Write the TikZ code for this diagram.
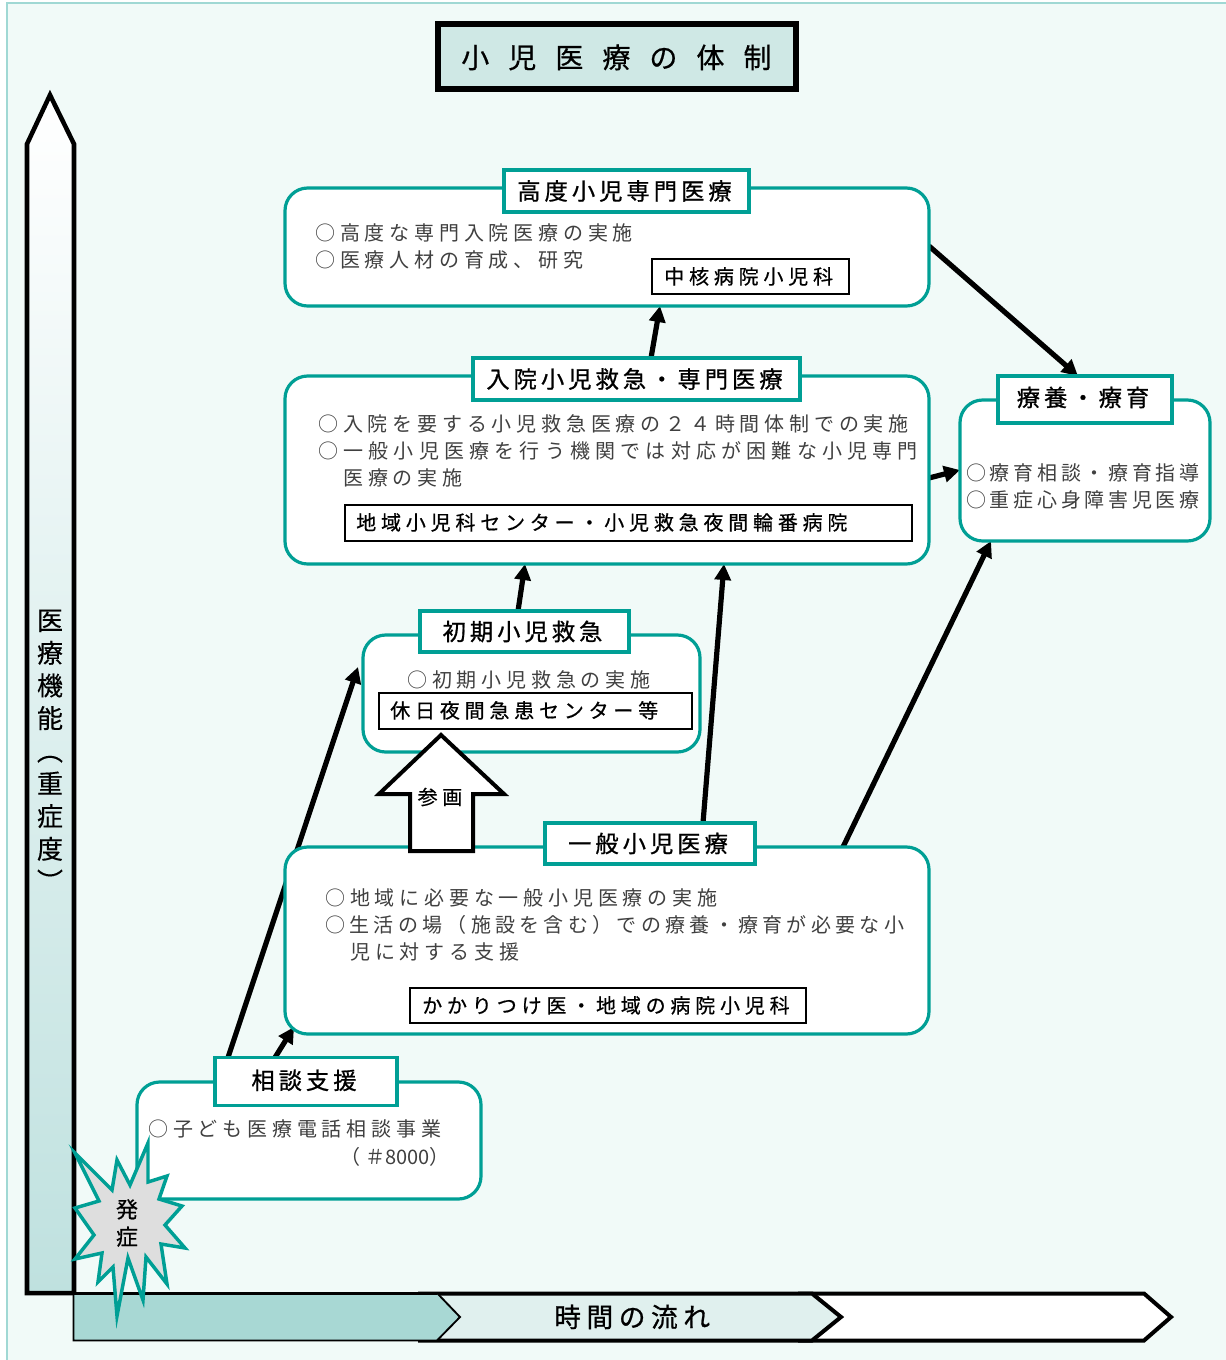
\documentclass[tikz,border=0pt]{standalone}
\usepackage{fontspec}
\usepackage{graphicx}
\usetikzlibrary{arrows.meta}
\newfontfamily\fbody[LetterSpace=24]{Noto Sans CJK JP}
\newfontfamily\fnarrow[LetterSpace=18.5]{Noto Sans CJK JP}
\newfontfamily\fwide[LetterSpace=26]{Noto Sans CJK JP}
\newfontfamily\fdense[LetterSpace=21.5]{Noto Sans CJK JP}
\newfontfamily\finner[LetterSpace=24,FakeBold=0.6]{Noto Sans CJK JP}
\newfontfamily\flabel[LetterSpace=17,FakeBold=0.8]{Noto Sans CJK JP}
\newfontfamily\ftitle[LetterSpace=68,FakeBold=0.6]{Noto Sans CJK JP}
\newfontfamily\ftime[LetterSpace=21,FakeBold=0.8]{Noto Sans CJK JP}
\newfontfamily\fplain{Noto Sans CJK JP}
\newfontfamily\fside[FakeBold=0.4]{Noto Sans CJK JP}
\definecolor{tealline}{HTML}{009F95}
\definecolor{pagebg}{HTML}{F1FAF8}
\definecolor{pageedge}{HTML}{A0D8D4}
\definecolor{titlefill}{HTML}{CFE8E5}
\definecolor{sidefill}{HTML}{BFE1DF}
\definecolor{timeA}{HTML}{A8D8D4}
\definecolor{timeB}{HTML}{E0F0EE}
\definecolor{burstfill}{HTML}{DEDEDE}
\definecolor{bodytext}{HTML}{404040}
\pgfdeclarelayer{arrowlayer}
\pgfsetlayers{arrowlayer,main}
\tikzset{
  rbox/.style={draw=tealline,line width=2.4pt,fill=white,rounded corners=17pt,inner sep=0pt,outer sep=0pt},
  lbox/.style={draw=tealline,line width=2.4pt,fill=white,inner sep=0pt,outer sep=0pt,font={\flabel\fontsize{17.5}{20}\selectfont},text=black,execute at end node={\hspace{3pt}}},
  ibox/.style={draw=black,line width=1pt,fill=white,inner sep=0pt,outer sep=0pt},
  bodyt/.style={anchor=base west,inner sep=0pt,font={\fbody\fontsize{15}{18}\selectfont},text=bodytext},
  narrowt/.style={anchor=base west,inner sep=0pt,font={\fnarrow\fontsize{15}{18}\selectfont},text=bodytext},
  widet/.style={anchor=base west,inner sep=0pt,font={\fwide\fontsize{15}{18}\selectfont},text=bodytext},
  denset/.style={anchor=base west,inner sep=0pt,font={\fdense\fontsize{15}{18}\selectfont},text=bodytext},
  innert/.style={anchor=base west,inner sep=0pt,font={\finner\fontsize{15}{18}\selectfont},text=black},
  flow/.style={line width=3.9pt,black,-{Triangle[length=12pt,width=12pt]}},
  timearrow/.style={line width=3pt,draw=black,miter limit=10},
}
\begin{document}
\begin{tikzpicture}[x=0.75pt,y=-0.75pt,line join=miter]
\useasboundingbox (0,0) rectangle (1226,1360);
\begin{pgfonlayer}{arrowlayer}
\fill[white] (0,0) rectangle (1226,1360);
\draw[fill=pagebg,draw=pageedge,line width=1pt] (7,3) -- (1230,3) -- (1230,1364) -- (7,1364) -- cycle;
\end{pgfonlayer}

% title
\node[draw=black,line width=4.5pt,fill=titlefill,minimum width={358*0.75pt},minimum height={65*0.75pt},inner sep=0pt,outer sep=0pt] (title) at (617,56.5) {};
\node[anchor=base west,inner sep=0pt,font={\ftitle\fontsize{21}{24}\selectfont}] (titletext) at (461,68) {小児医療の体制};

% side arrow
\draw[line width=3.4pt,draw=black,top color=white,bottom color=sidefill] (27,1293) -- (27,144) -- (50,95) -- (74,144) -- (74,1293) -- cycle;
\node[inner sep=0pt,align=center,font={\fside\fontsize{19.5}{24.5}\selectfont}] (sidetext) at (50,752) {医\\療\\機\\能\\\rotatebox[origin=c]{-90}{（}\\重\\症\\度\\\rotatebox[origin=c]{-90}{）}};

% main boxes
\node[rbox,minimum width={644*0.75pt},minimum height={118*0.75pt}] (A) at (607,247) {};
\node[rbox,minimum width={644*0.75pt},minimum height={188*0.75pt}] (B) at (607,470) {};
\node[rbox,minimum width={337*0.75pt},minimum height={117*0.75pt}] (C) at (531.5,693.5) {};
\node[rbox,minimum width={644*0.75pt},minimum height={187*0.75pt}] (D) at (607,940.5) {};
\node[rbox,minimum width={344*0.75pt},minimum height={117*0.75pt}] (E) at (309,1140.5) {};
\node[rbox,minimum width={250*0.75pt},minimum height={141*0.75pt}] (F) at (1085,470.5) {};

% labels
\node[lbox,minimum width={245*0.75pt},minimum height={42*0.75pt}] (lA) at (626.5,191) {\raisebox{-1.4pt}{高度小児専門医療}};
\node[lbox,minimum width={327*0.75pt},minimum height={42*0.75pt}] (lB) at (636.5,379) {\raisebox{-1.4pt}{入院小児救急・専門医療}};
\node[lbox,minimum width={209*0.75pt},minimum height={41*0.75pt}] (lC) at (524.5,631.5) {初期小児救急};
\node[lbox,minimum width={210*0.75pt},minimum height={41*0.75pt}] (lD) at (650,843.5) {一般小児医療};
\node[lbox,minimum width={182*0.75pt},minimum height={48*0.75pt}] (lE) at (306,1081.5) {\raisebox{3.2pt}{相談支援}};
\node[lbox,minimum width={174*0.75pt},minimum height={47*0.75pt}] (lF) at (1085,399.5) {\raisebox{4.5pt}{療養・療育}};

% inner boxes
\node[ibox,minimum width={197*0.75pt},minimum height={35*0.75pt}] (iA) at (750.5,276.5) {};
\node[ibox,minimum width={567*0.75pt},minimum height={36*0.75pt}] (iB) at (628.5,523) {};
\node[ibox,minimum width={313*0.75pt},minimum height={36*0.75pt}] (iC) at (535.5,711) {};
\node[ibox,minimum width={396*0.75pt},minimum height={35*0.75pt}] (iD) at (608,1005.5) {};

% body text
\node[bodyt] (a1) at (315,240) {○高度な専門入院医療の実施};
\node[bodyt] (a2) at (315,267) {○医療人材の育成、研究};
\node[innert] (ia) at (664,284) {中核病院小児科};
\node[bodyt] (b1) at (318,431) {○入院を要する小児救急医療の２４時間体制での実施};
\node[widet] (b2) at (318,458) {○一般小児医療を行う機関では対応が困難な小児専門};
\node[bodyt] (b3) at (343,485) {医療の実施};
\node[innert] (ib) at (356,530) {地域小児科センター・小児救急夜間輪番病院};
\node[bodyt] (c1) at (407,687) {○初期小児救急の実施};
\node[innert] (ic) at (390,718) {休日夜間急患センター等};
\node[bodyt] (d1) at (325,905) {○地域に必要な一般小児医療の実施};
\node[denset] (d2) at (325,932) {○生活の場（施設を含む）での療養・療育が必要な小};
\node[bodyt] (d3) at (350,959) {児に対する支援};
\node[innert] (id) at (422,1013) {かかりつけ医・地域の病院小児科};
\node[bodyt] (e1) at (148,1136) {○子ども医療電話相談事業};
\node[bodyt] (e2) at (340,1164) {（＃{\fplain 8000}）};
\node[narrowt] (f1) at (966,480) {○療育相談・療育指導};
\node[narrowt] (f2) at (966,507) {○重症心身障害児医療};

% connectors under the boxes
\coordinate (endC) at (358,667);
\coordinate (endD) at (294,1027);
\begin{pgfonlayer}{arrowlayer}
\draw[flow] (651,0 |- lB.north) -- (660,0 |- A.south);
\draw[flow] (518,0 |- lC.north) -- (525,0 |- B.south);
\draw[flow] (703,0 |- lD.north) -- (724,0 |- B.south);
\draw[flow] (843,0 |- D.north) -- (991,0 |- F.south);
\draw[flow] (228,0 |- lE.north) -- (endC);
\draw[flow] (275,0 |- lE.north) -- (endD);
\draw[flow] (A.east |- 0,246) -- (1078,373 |- lF.north);
\draw[flow] (B.east |- 0,478) -- (F.west |- 0,470);
\end{pgfonlayer}

% participation arrow
\draw[line width=3pt,draw=black,fill=white] (441,735) -- (504,794) -- (473,794) -- (473,851) -- (410,851) -- (410,794) -- (379,794) -- cycle;
\node[inner sep=0pt,font={\fside\fontsize{15}{18}\selectfont}] (sanka) at (440,797) {参\hspace{3.5pt}画};

% time arrows
\draw[timearrow,fill=white] (800,1293.5) -- (1144,1293.5) -- (1171,1317) -- (1144,1340.5) -- (800,1340.5) -- cycle;
\draw[timearrow,fill=timeB] (420,1293.5) -- (812,1293.5) -- (841,1317) -- (812,1340.5) -- (420,1340.5) -- cycle;
\draw[line width=1.4pt,draw=black,fill=timeA] (73.5,1293) -- (437,1293) -- (460,1317) -- (437,1340.5) -- (73.5,1340.5) -- cycle;
\draw[line width=2.4pt,draw=black] (73.5,1293.5) -- (437,1293.5);
\node[inner sep=0pt,anchor=base west,font={\ftime\fontsize{20}{22}\selectfont}] (timetext) at (554,1327) {時間の流れ};

% burst
\draw[draw=tealline,line width=2.6pt,fill=burstfill,miter limit=20]
 (75,1153) -- (112,1190) -- (117,1160) -- (130,1185) -- (148,1143) -- (148,1182) -- (167,1176) -- (159,1199)
 -- (182,1206) -- (165,1225) -- (185,1248) -- (161,1244) -- (167,1284) -- (146,1257) -- (143,1300) -- (128,1258)
 -- (117,1316) -- (113,1267) -- (98,1282) -- (102,1253) -- (75,1259) -- (94,1235) -- (75,1208) -- (99,1201) -- cycle;
\node[inner sep=0pt,align=center,font={\fside\fontsize{16.5}{20.5}\selectfont}] (burst) at (127,1223) {発\\症};
\end{tikzpicture}
\end{document}
